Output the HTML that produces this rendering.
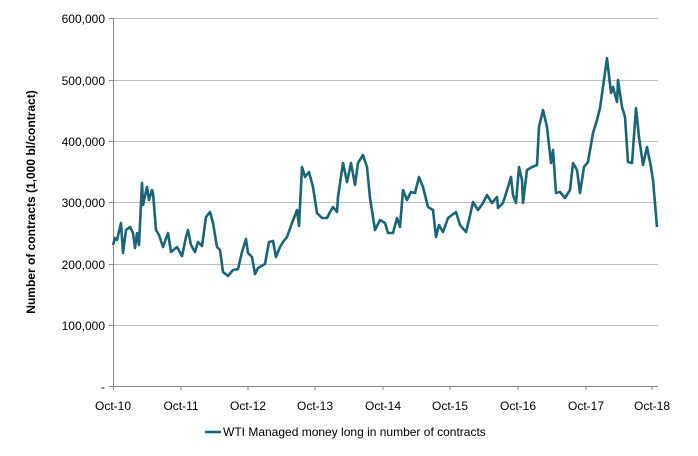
<!DOCTYPE html>
<html><head><meta charset="utf-8"><style>
body{margin:0;background:#fff;}
svg text{font-family:"Liberation Sans",sans-serif;font-size:12px;fill:#000;}
</style></head><body>
<svg width="698" height="451" viewBox="0 0 698 451">
<g stroke="#bdbdbd" stroke-width="1">
<line x1="113" x2="658" y1="18.5" y2="18.5"/>
<line x1="113" x2="658" y1="80.5" y2="80.5"/>
<line x1="113" x2="658" y1="141.5" y2="141.5"/>
<line x1="113" x2="658" y1="202.5" y2="202.5"/>
<line x1="113" x2="658" y1="264.5" y2="264.5"/>
<line x1="113" x2="658" y1="325.5" y2="325.5"/>
</g>
<g stroke="#888" stroke-width="1">
<line x1="113.5" x2="113.5" y1="18" y2="390"/>
<line x1="113" x2="658" y1="386.5" y2="386.5"/>
<line x1="109" x2="113" y1="18.5" y2="18.5"/><line x1="109" x2="113" y1="80.5" y2="80.5"/>
<line x1="109" x2="113" y1="141.5" y2="141.5"/><line x1="109" x2="113" y1="202.5" y2="202.5"/>
<line x1="109" x2="113" y1="264.5" y2="264.5"/><line x1="109" x2="113" y1="325.5" y2="325.5"/>
<line x1="109" x2="113" y1="386.5" y2="386.5"/>
<line x1="181" x2="181" y1="386" y2="390"/><line x1="248" x2="248" y1="386" y2="390"/>
<line x1="315" x2="315" y1="386" y2="390"/><line x1="383" x2="383" y1="386" y2="390"/>
<line x1="450" x2="450" y1="386" y2="390"/><line x1="518" x2="518" y1="386" y2="390"/>
<line x1="586" x2="586" y1="386" y2="390"/><line x1="652" x2="652" y1="386" y2="390"/>
</g>
<g text-anchor="end">
<text x="105" y="23">600,000</text><text x="105" y="85">500,000</text>
<text x="105" y="146">400,000</text><text x="105" y="207">300,000</text>
<text x="105" y="269">200,000</text><text x="105" y="330">100,000</text>
<text x="105" y="391">-</text>
</g>
<g text-anchor="middle">
<text x="113" y="410">Oct-10</text><text x="181" y="410">Oct-11</text>
<text x="248" y="410">Oct-12</text><text x="315" y="410">Oct-13</text>
<text x="383" y="410">Oct-14</text><text x="450" y="410">Oct-15</text>
<text x="518" y="410">Oct-16</text><text x="586" y="410">Oct-17</text>
<text x="652" y="410">Oct-18</text>
</g>
<text transform="translate(35,202) rotate(-90)" text-anchor="middle" font-weight="bold">Number of contracts (1,000 bl/contract)</text>
<polyline fill="none" stroke="#1a6677" stroke-width="2.6" stroke-linejoin="round" points="113,245 115,238 117,240 121,223 123,253 126,230 130,227 133,233 135,248 137,233 139,245 142,183 143,205 147,187 149,200 152,190 153,193 156,230 159,235 163,247 168,233 171,252 177,247 182,256 186,237 188,230 191,245 195,252 198,242 202,246 206,217 210,212 213,223 217,247 220,250 223,272 228,276 233,270 238,269 242,252 246,239 248,253 252,257 255,274 258,268 265,264 269,242 273,241 276,257 280,247 283,242 287,237 292,223 297,210 299,226 302,167 305,177 309,172 313,187 317,213 322,218 327,218 330,212 333,207 337,212 338,197 343,163 347,182 351,163 355,185 358,163 363,155 367,167 370,198 375,230 380,220 385,223 388,233 393,233 397,218 400,227 403,190 407,200 411,192 415,193 419,177 423,187 428,207 433,210 436,237 439,225 443,232 448,218 452,215 456,212 460,225 466,232 469,220 473,202 478,210 483,203 487,195 492,203 497,197 498,208 503,203 508,187 511,177 513,195 516,203 519,167 522,180 523,203 527,170 532,167 537,165 539,127 543,110 547,127 551,163 553,150 556,193 560,192 565,198 570,190 573,163 577,170 580,193 584,167 588,162 593,133 597,120 600,108 603,87 607,58 611,93 613,87 617,102 618,80 622,107 625,117 628,162 632,163 636,108 639,137 643,165 647,147 651,167 653,180 657,227"/>
<line x1="205" x2="221" y1="432" y2="432" stroke="#1a6677" stroke-width="2.6"/>
<text x="223" y="436">WTI Managed money long in number of contracts</text>
</svg>
</body></html>
